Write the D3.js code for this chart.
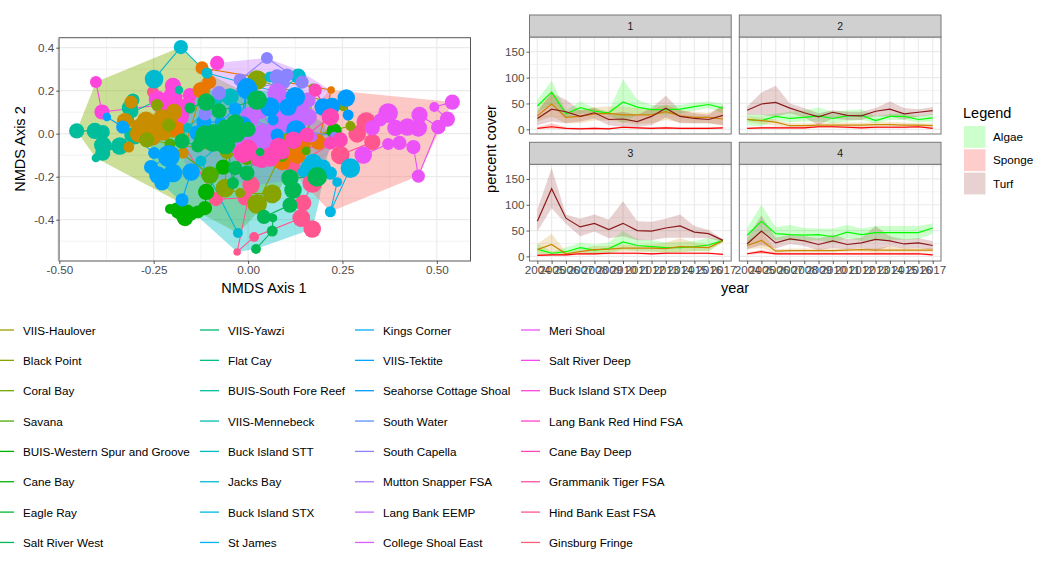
<!DOCTYPE html>
<html>
<head>
<meta charset="utf-8">
<script src="https://cdn.jsdelivr.net/npm/d3@7"></script>
<style>
  html, body { margin: 0; padding: 0; background: #fff; overflow: hidden; }
  text { font-family: "Liberation Sans", Arial, sans-serif; }
</style>
</head>
<body>
<div id="chart"></div>
<script>
// ---- NMDS points: [axis 1, axis 2, abundance], one list per site, in path order
const unlabeledA = [[-.188,.022,40],[-.127,.203,40],[-.103,.240,35],[-.122,.306,30],[.220,.203,10],[.186,-.039,40],[.146,-.053,40],[.111,-.076,67],[.13,-.1,50],[.09,-.13,50]];
const unlabeledB = [[-.310,.147,30],[-.326,.059,46],[-.316,-.062,21],[-.286,.031,53],[-.260,.040,67],[-.27,.06,60],[-.228,.073,53],[-.24,.02,67],[-.196,.101,46],[-.21,.06,60],[-.225,.008,53],[-.29,0,53],[-.252,-.020,40],[-.199,.017,40],[-.172,-.090,21],[-.122,.203,46]];
const blackPoint = [[-.241,.133,25],[-.210,.040,30],[-.268,-.029,40],[-.056,-.085,35],[-.061,-.253,60],[-.021,-.276,17],[.064,-.280,60],[.024,-.327,67],[.103,-.039,53],[.271,.036,17],[.252,.124,13],[.024,.250,67]];
const savana = [[-.207,-.048,21],[-.101,-.192,53],[-.003,-.108,46],[.090,-.104,25],[.154,-.080,13],[.172,.213,13]];
const westernSpur = [[-.207,-.350,17],[-.191,-.346,21],[-.175,-.378,30],[-.185,-.36,40],[-.167,-.392,46],[-.16,-.36,30],[-.149,-.378,21],[-.133,-.364,30],[-.114,-.346,35],[-.111,-.271,46],[-.066,-.155,40],[.228,.013,40]];
const saltRiverWest = [[.021,-.536,17],[.064,-.453,21],[.066,-.392,13],[.042,-.387,35],[.111,-.332,40],[.119,-.262,53],[.111,-.206,53],[.183,-.201,67],[.032,-.085,13],[-.003,-.183,40],[-.034,-.160,35],[-.040,-.229,25],[-.061,.031,40],[-.034,.050,53],[-.061,-.020,67],[-.06,-.05,67],[-.03,0,53],[0,.02,40],[-.09,0,67],[-.093,-.043,53],[-.114,-.006,67],[-.12,-.03,53],[-.133,-.057,30],[-.175,-.034,40],[-.154,.120,21],[-.111,.147,53],[-.077,.106,40],[.024,.157,67]];
const flatCay = [[-.454,.013,40],[-.406,.013,46],[-.385,.008,35],[-.385,-.053,53],[-.340,-.057,53],[-.385,-.090,40],[-.403,-.113,13],[-.308,-.006,40],[-.305,.157,30],[-.313,.120,46],[-.300,-.015,40],[-.305,.101,21],[-.183,.203,13]];
const buckIslandSTT = [[-.159,.027,17],[-.082,.157,21],[-.048,.171,53]];
const jacksBay = [[-.249,.254,60],[-.178,.403,35],[-.109,.282,21],[.077,.194,30],[.058,.264,21],[.133,.268,40],[-.125,-.127,21],[-.027,-.462,17]];
const buckIslandSTX = [[.146,-.178,21],[.156,-.155,30],[.172,-.136,60],[.199,-.155,40],[.218,-.183,30],[.236,-.225,17],[.218,-.363,21],[.271,-.160,67]];
const stJames = [[-.374,.078,13],[-.332,.031,30],[-.249,-.090,25],[-.210,-.104,83],[-.257,-.155,35],[-.239,-.192,53],[-.228,-.229,40],[-.199,-.183,60],[-.151,-.178,53],[-.175,-.308,30]];
const kingsCorner = [[-.135,.003,40],[-.117,.054,40],[-.074,.054,21],[-.034,.115,30],[-.008,.050,40],[-.029,-.029,13],[-.003,.208,75]];
const viisTektite = [[-.013,.040,53],[-.003,.213,67],[.058,.124,67],[.106,.124,53],[.125,.171,67],[.066,.064,21],[.077,-.006,30],[.127,.017,67],[.199,.124,53],[.223,.129,46],[.260,.166,53],[.265,.087,21]];
const southWater = [[-.021,.250,30],[.050,.352,25],[.143,.240,30],[.103,.273,30],[.077,.264,40],[.093,.236,30],[-.077,.189,35],[-.114,.092,30],[.228,-.011,13]];
const muttonSnapper = [[.077,.189,67],[.093,.120,53],[.111,.096,67],[.159,.157,40],[.14,.12,53],[.159,.078,53],[.133,.054,53],[.1,.05,60],[.085,.078,67],[.03,.11,60],[.066,.017,40],[.005,.078,67],[.037,.008,40],[.05,-.01,53],[.040,-.039,67],[.013,-.043,40],[0,-.02,46],[-.03,-.06,40],[.170,-.015,17]];
const meriShoal = [[.541,.147,40],[.493,.124,17],[.528,.068,40],[.504,.031,35],[.454,.087,46],[.451,.027,53],[.422,.031,53],[.390,.027,46],[.371,.096,67],[.350,.064,30],[.329,.027,40],[.305,-.099,53],[.371,-.048,25],[.401,-.043,35],[.438,-.062,35],[.451,-.197,30],[.504,.031,35]];
const saltRiverDeep = [[-.403,.240,25],[-.387,.101,40],[-.233,.133,46],[-.24,.16,53],[-.199,.222,46],[-.2,.17,67],[-.154,.180,35],[-.16,.13,46],[-.194,.124,83],[-.180,.078,53],[-.082,.329,35]];
const caneBayDeep = [[-.013,-.090,67],[0,-.07,60],[.037,-.122,46],[.058,-.108,67],[.08,-.06,53],[.090,-.085,40],[.12,-.03,53],[.156,-.006,40],[.218,.078,53],[.178,.203,30],[.244,-.029,40],[.218,-.043,30],[.024,-.122,30]];
const hindBankEast = [[.313,.054,67],[.289,-.001,53],[.329,-.039,46],[.244,-.099,60],[.236,-.029,30],[.119,-.155,40],[.170,-.229,67],[.146,-.322,46],[.141,-.392,53],[.170,-.443,53]];
const ginsburgFringe = [[-.252,.194,25],[-.085,-.304,35],[-.008,-.299,40],[.008,-.239,53],[-.029,-.550,10],[.016,-.480,17],[.141,-.392,53]];

// ---- region hulls, axis 1 / axis 2
const hullOlive = [[-.178,.403],[-.403,.240],[-.454,.013],[-.403,-.113],[-.027,-.462],[.08,-.27],[.138,-.076],[-.021,.203],[-.109,.282]];
const hullPurple = [[-.082,.329],[.05,.352],[.133,.296],[.218,.203],[.236,-.03],[.17,-.2],[.02,-.24],[-.16,-.19],[-.2,.1]];
const hullTurquoise = [[-.029,-.55],[.021,-.536],[.17,-.443],[.186,-.33],[.218,-.03],[.2,.05],[.05,.2],[-.14,.2],[-.26,0],[-.25,-.2]];
const hullRed = [[.541,.147],[.218,.203],[.1,0],[.13,-.2],[.218,-.363],[.451,-.197]];

// ---- legend
const legendSites = [
  "VIIS-Haulover","Black Point","Coral Bay","Savana","BUIS-Western Spur and Groove","Cane Bay","Eagle Ray","Salt River West",
  "VIIS-Yawzi","Flat Cay","BUIS-South Fore Reef","VIIS-Mennebeck","Buck Island STT","Jacks Bay","Buck Island STX","St James",
  "Kings Corner","VIIS-Tektite","Seahorse Cottage Shoal","South Water","South Capella","Mutton Snapper FSA","Lang Bank EEMP","College Shoal East",
  "Meri Shoal","Salt River Deep","Buck Island STX Deep","Lang Bank Red Hind FSA","Cane Bay Deep","Grammanik Tiger FSA","Hind Bank East FSA","Ginsburg Fringe"
];
const legendCover = ["Algae","Sponge","Turf"];

// ---- percent cover by year
const years = [2004,2005,2006,2007,2008,2009,2010,2011,2012,2013,2014,2015,2016,2017];

const algaeMean1 = [45,72,30,42,35,32,53,43,38,38,39,44,48,41];
const algaeHigh1 = [57,94,37,54,41,35,97,57,47,47,47,52,54,50];
const algaeLow1 = [34,47,21,31,30,28,12,28,29,28,30,36,41,31];
const coralMean1 = [26,49,23,25,30,31,28,28,28,34,26,23,23,20];
const coralHigh1 = [37,76,34,37,43,44,44,41,39,47,37,34,32,44];
const coralLow1 = [15,25,12,12,17,17,13,10,12,18,13,12,12,8];
const turfMean1 = [21,39,34,25,32,19,20,15,25,41,25,21,19,27];
const turfHigh1 = [34,70,57,37,41,30,34,28,41,65,37,31,28,47];
const turfLow1 = [8,15,12,15,21,8,5,5,8,23,12,12,12,8];
const spongeMean1 = [2,5,2,1,2,1,4,3,2,3,2,2,2,3];
const spongeHigh1 = [4,12,4,3,4,3,6,5,4,5,4,4,4,5];
const spongeLow1 = [0,1,0,0,0,0,2,1,0,1,0,0,0,1];

const algaeMean2 = [19,17,25,21,23,26,21,26,27,17,25,25,19,22];
const algaeHigh2 = [29,28,30,34,37,42,34,37,39,26,30,31,26,30];
const algaeLow2 = [8,6,18,13,15,15,12,15,18,12,18,18,13,15];
const coralMean2 = [19,17,14,7,7,8,8,8,8,9,9,8,8,7];
const coralHigh2 = [25,23,19,12,12,12,13,13,13,14,14,13,12,12];
const coralLow2 = [15,10,7,4,4,4,4,4,4,4,5,4,4,4];
const turfMean2 = [37,49,52,41,32,24,33,27,26,35,39,30,33,36];
const turfHigh2 = [44,71,84,50,41,31,37,34,34,41,54,41,39,43];
const turfLow2 = [28,28,25,31,23,8,21,18,18,26,25,19,25,28];
const spongeMean2 = [2,3,3,3,3,5,5,4,3,4,4,4,5,2];
const spongeHigh2 = [3,5,5,5,5,7,7,6,5,6,6,6,7,4];
const spongeLow2 = [1,1,1,1,1,3,3,2,1,2,2,2,3,1];

const algaeMean3 = [14,6,9,17,12,15,28,21,19,17,17,19,22,31];
const algaeHigh3 = [25,9,17,27,23,27,49,33,31,27,28,30,35,33];
const algaeLow3 = [4,3,4,9,4,5,14,10,9,7,9,10,10,28];
const coralMean3 = [13,23,5,9,13,14,16,16,16,15,19,18,17,30];
const coralHigh3 = [24,44,9,14,20,20,23,22,23,27,35,27,23,31];
const coralLow3 = [3,4,3,5,6,7,9,9,9,7,7,10,10,28];
const turfMean3 = [68,131,74,57,64,52,64,50,49,55,59,47,44,31];
const turfHigh3 = [91,171,81,73,81,71,107,68,67,73,81,59,51,33];
const turfLow3 = [48,93,63,39,48,35,39,31,31,36,36,36,35,28];
const spongeMean3 = [2,3,3,5,5,6,6,6,5,6,6,6,6,4];
const spongeHigh3 = [3,5,5,7,7,8,8,8,7,8,8,8,8,5];
const spongeLow3 = [1,1,1,3,3,4,4,4,3,4,4,4,4,3];

const algaeMean4 = [41,68,44,42,41,42,38,47,42,46,46,46,46,55];
const algaeHigh4 = [55,100,57,61,55,54,54,61,54,59,59,59,59,64];
const algaeLow4 = [26,46,31,31,30,31,26,35,30,31,31,32,33,44];
const coralMean4 = [21,31,10,11,11,11,11,12,13,12,12,12,12,12];
const coralHigh4 = [30,48,14,15,15,15,15,15,16,15,20,16,16,16];
const coralLow4 = [14,16,6,8,8,8,8,9,9,7,8,8,8,8];
const turfMean4 = [24,49,26,34,30,23,30,23,26,33,30,24,26,21];
const turfHigh4 = [36,79,36,42,39,35,42,33,36,59,39,33,35,30];
const turfLow4 = [14,22,15,24,20,12,16,14,16,10,20,15,16,13];
const spongeMean4 = [5,9,5,5,5,5,5,5,5,5,5,5,5,3];
const spongeHigh4 = [7,13,7,7,7,7,7,7,7,7,7,7,7,5];
const spongeLow4 = [3,5,3,3,3,3,3,3,3,3,3,3,3,1];

// ---- ticks
const nmdsXMajor = [-0.5,-0.25,0,0.25,0.5];
const nmdsXMinor = [-0.375,-0.125,0.125,0.375];
const nmdsYMajor = [-0.4,-0.2,0,0.2,0.4];
const nmdsYMinor = [-0.5,-0.3,-0.1,0.1,0.3];
const coverMajor = [0,50,100,150];
const coverMinor = [25,75,125,175];

// 40 sites on the ggplot hue wheel, the first 8 fell off the left of the legend
const hiddenSites = 8;
const siteCount = hiddenSites + legendSites.length;

// ggplot's hcl is polar LUV, d3.hcl is polar LAB so the colours come out wrong with it
function hueLuv(h, c, l) {
  const rad = h * Math.PI / 180;
  const u = c * Math.cos(rad), v = c * Math.sin(rad);
  const Y = Math.pow((l + 16) / 116, 3);
  const up = u / (13 * l) + 0.19783, vp = v / (13 * l) + 0.46832;
  const X = 9 * Y * up / (4 * vp);
  const Z = -X / 3 - 5 * Y + 3 * Y / vp;
  const lin = [
    3.2406 * X - 1.5372 * Y - 0.4986 * Z,
    -0.9689 * X + 1.8758 * Y + 0.0415 * Z,
    0.0557 * X - 0.2040 * Y + 1.0570 * Z
  ];
  const gam = lin.map(a => {
    a = Math.max(0, Math.min(1, a));
    return 255 * (a <= 0.0031308 ? 12.92 * a : 1.055 * Math.pow(a, 1 / 2.4) - 0.055);
  });
  return d3.rgb(gam[0], gam[1], gam[2]).formatHex();
}
// a bit stronger than the default c=100, l=65, the reference screenshot is more saturated
const hue = i => hueLuv(15 + 360 * i / siteCount, 115, 62);
const hyphen = f => d => f(d).replace("\u2212", "-");

// draw order matters here, later sites sit on top
const siteLayers = [
  [ginsburgFringe, 38], [hindBankEast, 38], [meriShoal, 32], [saltRiverDeep, 34], [flatCay, 18],
  [unlabeledB, 5], [unlabeledA, 2], [blackPoint, 9], [westernSpur, 13], [savana, 11],
  [buckIslandSTT, 20], [jacksBay, 21], [stJames, 25], [kingsCorner, 25],
  [southWater, 28], [muttonSnapper, 30], [viisTektite, 26], [caneBayDeep, 36], [buckIslandSTX, 22], [saltRiverWest, 15]
];

const svg = d3.select("#chart").append("svg")
  .attr("width", 1056)
  .attr("height", 576);

function gridLines(g, x, y, xTicks, yTicks, width) {
  g.selectAll(null).data(xTicks).enter().append("line")
    .attr("x1", d => x(d)).attr("x2", d => x(d))
    .attr("y1", y.range()[0]).attr("y2", y.range()[1])
    .attr("stroke", "#ebebeb").attr("stroke-width", width);
  g.selectAll(null).data(yTicks).enter().append("line")
    .attr("x1", x.range()[0]).attr("x2", x.range()[1])
    .attr("y1", d => y(d)).attr("y2", d => y(d))
    .attr("stroke", "#ebebeb").attr("stroke-width", width);
}

function styleAxis(g) {
  g.select(".domain").remove();
  g.selectAll("line").attr("stroke", "#333333").attr("stroke-width", 0.8);
  g.selectAll("text").attr("fill", "#4d4d4d").attr("font-size", 11.7);
}

// ---- ordination panel
const nmds = { left: 59.3, right: 470.5, top: 37.7, bottom: 261 };
const xNmds = d3.scaleLinear().domain([-0.5, 0.5891]).range([nmds.left, nmds.right]);
const yNmds = d3.scaleLinear().domain([-0.592, 0.4465]).range([nmds.bottom, nmds.top]);
const rSize = d3.scaleSqrt().domain([0, 100]).range([0, 12]);

const ordination = svg.append("g");
ordination.append("rect")
  .attr("x", nmds.left).attr("y", nmds.top)
  .attr("width", nmds.right - nmds.left).attr("height", nmds.bottom - nmds.top)
  .attr("fill", "#fff");
gridLines(ordination, xNmds, yNmds, nmdsXMinor, nmdsYMinor, 0.6);
gridLines(ordination, xNmds, yNmds, nmdsXMajor, nmdsYMajor, 1.2);

const hullLine = d3.line().x(d => xNmds(d[0])).y(d => yNmds(d[1]));
[[hullOlive, "#7CAE00"], [hullPurple, "#C77CFF"], [hullTurquoise, "#00BFC4"], [hullRed, "#F8766D"]].forEach(h => {
  ordination.append("path")
    .attr("d", hullLine(h[0]) + "Z")
    .attr("fill", h[1])
    .attr("fill-opacity", 0.4);
});

siteLayers.forEach(s => {
  ordination.append("path")
    .attr("d", hullLine(s[0]))
    .attr("fill", "none")
    .attr("stroke", hue(s[1]))
    .attr("stroke-width", 1.1);
});
siteLayers.forEach(s => {
  ordination.append("g").selectAll("circle")
    .data(s[0])
    .enter().append("circle")
    .attr("cx", d => xNmds(d[0]))
    .attr("cy", d => yNmds(d[1]))
    .attr("r", d => rSize(d[2]))
    .attr("fill", hue(s[1]));
});

ordination.append("rect")
  .attr("x", nmds.left).attr("y", nmds.top)
  .attr("width", nmds.right - nmds.left).attr("height", nmds.bottom - nmds.top)
  .attr("fill", "none").attr("stroke", "#555555").attr("stroke-width", 1);
ordination.append("line")
  .attr("x1", nmds.left - 0.5).attr("x2", nmds.left - 0.5)
  .attr("y1", nmds.top).attr("y2", nmds.bottom)
  .attr("stroke", "#a8a8a8").attr("stroke-width", 2);

ordination.append("g")
  .attr("transform", "translate(0," + nmds.bottom + ")")
  .call(d3.axisBottom(xNmds).tickValues(nmdsXMajor).tickFormat(hyphen(d3.format(".2f"))).tickSize(3).tickPadding(2))
  .call(styleAxis);
ordination.append("g")
  .attr("transform", "translate(" + nmds.left + ",0)")
  .call(d3.axisLeft(yNmds).tickValues(nmdsYMajor).tickFormat(hyphen(d3.format(".1f"))).tickSize(3).tickPadding(2))
  .call(styleAxis);

ordination.append("text")
  .attr("x", 264).attr("y", 293)
  .attr("text-anchor", "middle").attr("font-size", 14.5)
  .text("NMDS Axis 1");
ordination.append("text")
  .attr("transform", "translate(25,149) rotate(-90)")
  .attr("text-anchor", "middle").attr("font-size", 14.5)
  .text("NMDS Axis 2");

// ---- percent cover facets
const seriesStyles = [
  { name: "algae", color: "#00FF00" },
  { name: "coral", color: "#CD8500" },
  { name: "turf", color: "#8B1A1A" },
  { name: "sponge", color: "#FF0000" }
];
const facetData = [
  { label: "1", left: 529.5, top: 37, bottom: 134, showY: true, showX: false,
    algae: [algaeMean1, algaeLow1, algaeHigh1], coral: [coralMean1, coralLow1, coralHigh1], turf: [turfMean1, turfLow1, turfHigh1], sponge: [spongeMean1, spongeLow1, spongeHigh1] },
  { label: "2", left: 739.3, top: 37, bottom: 134, showY: false, showX: false,
    algae: [algaeMean2, algaeLow2, algaeHigh2], coral: [coralMean2, coralLow2, coralHigh2], turf: [turfMean2, turfLow2, turfHigh2], sponge: [spongeMean2, spongeLow2, spongeHigh2] },
  { label: "3", left: 529.5, top: 164.3, bottom: 261, showY: true, showX: true,
    algae: [algaeMean3, algaeLow3, algaeHigh3], coral: [coralMean3, coralLow3, coralHigh3], turf: [turfMean3, turfLow3, turfHigh3], sponge: [spongeMean3, spongeLow3, spongeHigh3] },
  { label: "4", left: 739.3, top: 164.3, bottom: 261, showY: false, showX: true,
    algae: [algaeMean4, algaeLow4, algaeHigh4], coral: [coralMean4, coralLow4, coralHigh4], turf: [turfMean4, turfLow4, turfHigh4], sponge: [spongeMean4, spongeLow4, spongeHigh4] }
];
const facetWidth = 201.7;
const stripHeight = 22;

facetData.forEach(f => {
  const g = svg.append("g");
  const x = d3.scaleLinear().domain([2003.45, 2017.58]).range([f.left, f.left + facetWidth]);
  const y = d3.scaleLinear().domain([-9, 178.4]).range([f.bottom, f.top]);

  gridLines(g, x, y, [], coverMinor, 0.6);
  gridLines(g, x, y, years, coverMajor, 1.2);

  seriesStyles.forEach(s => {
    const vals = f[s.name];
    const area = d3.area()
      .x((d, i) => x(years[i]))
      .y0((d, i) => y(vals[1][i]))
      .y1((d, i) => y(vals[2][i]));
    g.append("path")
      .attr("d", area(vals[0]))
      .attr("fill", s.color)
      .attr("fill-opacity", 0.2);
  });
  seriesStyles.forEach(s => {
    const line = d3.line()
      .x((d, i) => x(years[i]))
      .y(d => y(d));
    g.append("path")
      .attr("d", line(f[s.name][0]))
      .attr("fill", "none")
      .attr("stroke", s.color)
      .attr("stroke-width", 1.2);
  });

  g.append("rect")
    .attr("x", f.left).attr("y", f.top)
    .attr("width", facetWidth).attr("height", f.bottom - f.top)
    .attr("fill", "none").attr("stroke", "#777777").attr("stroke-width", 1);

  // strip on top
  g.append("rect")
    .attr("x", f.left).attr("y", f.top - stripHeight)
    .attr("width", facetWidth).attr("height", stripHeight)
    .attr("fill", "#d0d0d0").attr("stroke", "#777777").attr("stroke-width", 1);
  g.append("text")
    .attr("x", f.left + facetWidth / 2).attr("y", f.top - 7)
    .attr("text-anchor", "middle").attr("font-size", 10.5).attr("fill", "#1a1a1a")
    .text(f.label);

  if (f.showY) {
    g.append("g")
      .attr("transform", "translate(" + f.left + ",0)")
      .call(d3.axisLeft(y).tickValues(coverMajor).tickSize(3).tickPadding(2))
      .call(styleAxis);
  }
  if (f.showX) {
    g.append("g")
      .attr("transform", "translate(0," + f.bottom + ")")
      .call(d3.axisBottom(x).tickValues(years).tickFormat(d3.format("d")).tickSize(3).tickPadding(2))
      .call(styleAxis);
  }
});

svg.append("text")
  .attr("x", 735).attr("y", 293)
  .attr("text-anchor", "middle").attr("font-size", 14.5)
  .text("year");
svg.append("text")
  .attr("transform", "translate(496,149) rotate(-90)")
  .attr("text-anchor", "middle").attr("font-size", 14.5)
  .text("percent cover");

// ---- cover legend
const coverKeyColors = ["#00FF00", "#FF0000", "#8B1A1A"];
const coverLegend = svg.append("g").attr("transform", "translate(964,126)");
coverLegend.append("text")
  .attr("x", -1).attr("y", -8)
  .attr("font-size", 14.5)
  .text("Legend");
legendCover.forEach((name, i) => {
  coverLegend.append("rect")
    .attr("x", 0).attr("y", i * 23.3)
    .attr("width", 21.5).attr("height", 21.8)
    .attr("fill", coverKeyColors[i]).attr("fill-opacity", 0.2);
  coverLegend.append("text")
    .attr("x", 29).attr("y", i * 23.3 + 15)
    .attr("font-size", 11.7)
    .text(name);
});

// ---- site legend, 4 columns of 8
const columnX = [23, 228, 383, 549];
const rowY = i => 330 + i * 30.35;
const siteLegend = svg.append("g");
legendSites.forEach((name, i) => {
  const col = Math.floor(i / 8);
  const row = i % 8;
  siteLegend.append("line")
    .attr("x1", columnX[col] - 28).attr("x2", columnX[col] - 9)
    .attr("y1", rowY(row)).attr("y2", rowY(row))
    .attr("stroke", hue(i + hiddenSites))
    .attr("stroke-width", 1.3);
  siteLegend.append("text")
    .attr("x", columnX[col]).attr("y", rowY(row) + 4.6)
    .attr("font-size", 11.7)
    .attr("fill", "#000")
    .text(name);
});
</script>
</body>
</html>
